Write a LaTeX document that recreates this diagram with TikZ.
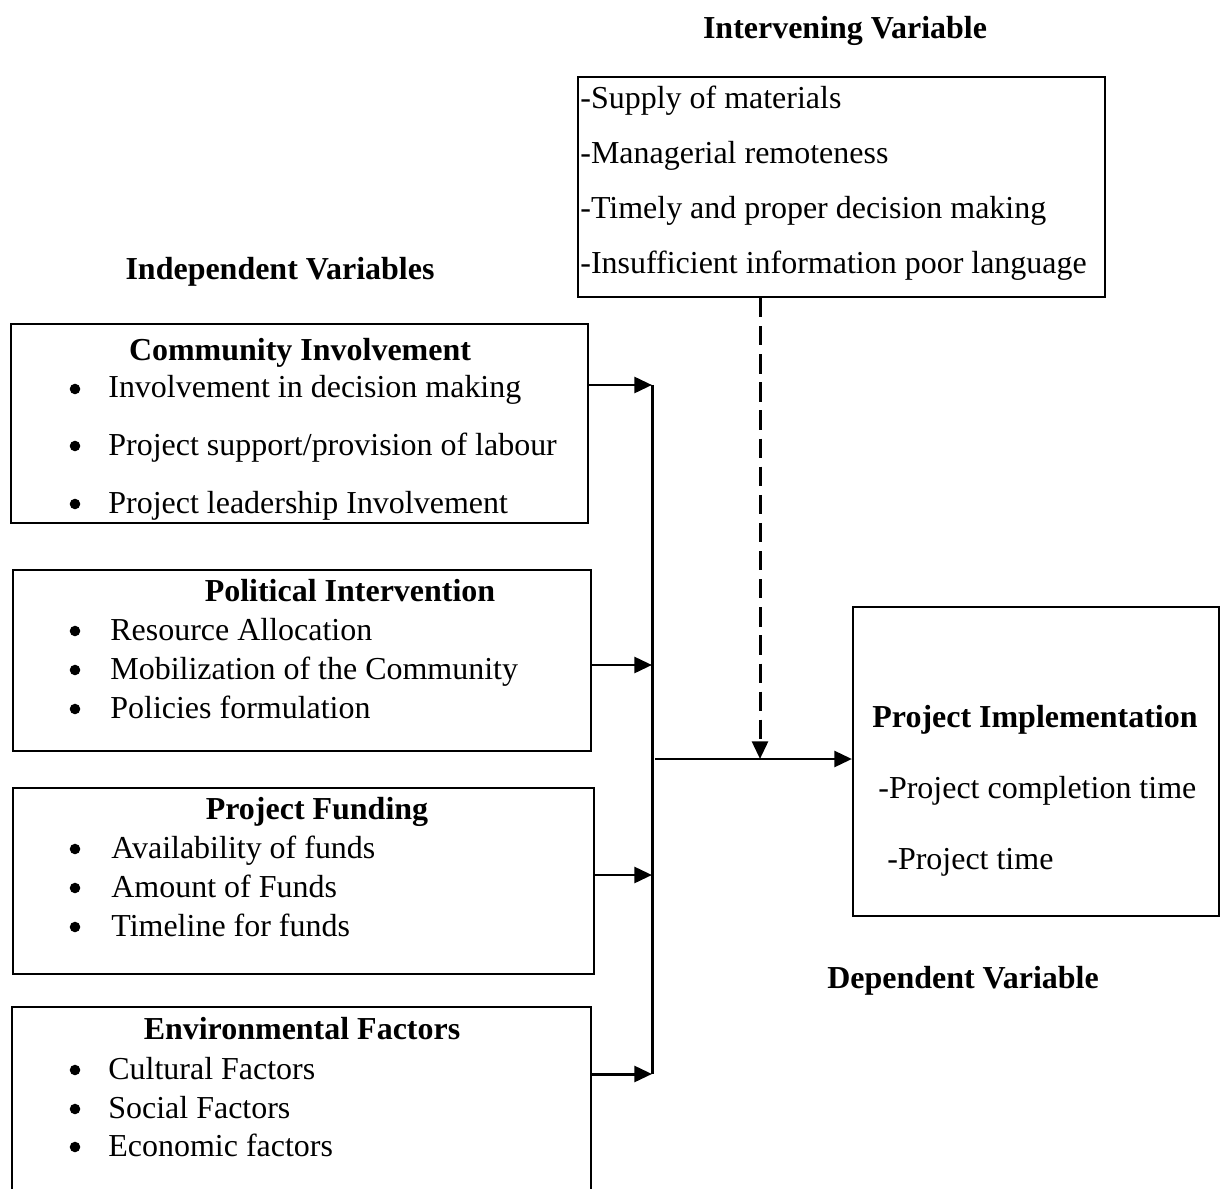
\documentclass[tikz,border=0pt]{standalone}
\usepackage{fontspec}
\setmainfont{Liberation Serif}
\usetikzlibrary{arrows.meta,fit}

\begin{document}
\begin{tikzpicture}[x=0.02cm, y=-0.02cm, font=\fontsize{18.2}{22}\selectfont,
		box/.style={draw, line width=1.2pt, inner sep=0pt},
		item/.style={anchor=base west, inner sep=0pt},
		head/.style={anchor=base, inner sep=0pt, font=\fontsize{18.2}{22}\selectfont\bfseries},
		link/.style={line width=1.7pt, -{Triangle[length=10pt,width=9pt]}}]
				\useasboundingbox (0,0) rectangle (1227,1189);
				% boxes
				\node[box, fit={(11,324) (588,523)}] (ci) {};
				\node[box, fit={(13,570) (591,751)}] (pi) {};
				\node[box, fit={(13,788) (594,974)}] (pf) {};
				\node[box, fit={(12,1007) (591,1200)}] (ef) {};
				\node[box, fit={(578,77) (1105,297)}] (iv) {};
				\node[box, fit={(853,607) (1219,916)}] (dv) {};
				
				% headings
				\node[head] (iv-h) at (845,39) {Intervening Variable};
				\node[head] (in-h) at (280,280) {Independent Variables};
				\node[head] (dv-h) at (963,988) {Dependent Variable};
				
				% intervening variable
				\foreach \y/\t [count=\i] in {109/-Supply of materials, 164/-Managerial remoteness,
					219/-Timely and proper decision making, 274/-Insufficient information poor language}
					\node[item] (iv-\i) at (580,\y) {\t};
				
				% community involvement
				\node[head] (ci-h) at (300,360) {Community Involvement};
				\foreach \y/\t [count=\i] in {398/{Involvement in decision making},
					455/{Project support/provision of labour}, 513/{Project leadership Involvement}}{
					\fill (75,\y-9) circle (3pt);
					\node[item] (ci-\i) at (108,\y) {\t};
				}
				
				% political intervention
				\node[head] (pi-h) at (350,601) {Political Intervention};
				\foreach \y/\t [count=\i] in {640/Resource Allocation,
					679/Mobilization of the Community, 718/Policies formulation}{
					\fill (75,\y-9) circle (3pt);
					\node[item] (pi-\i) at (110,\y) {\t};
				}
				
				% project funding
				\node[head] (pf-h) at (317,819) {Project Funding};
				\foreach \y/\t [count=\i] in {858/Availability of funds,
					897/Amount of Funds, 936/Timeline for funds}{
					\fill (75,\y-9) circle (3pt);
					\node[item] (pf-\i) at (111,\y) {\t};
				}
				
				% environmental factors
				\node[head] (ef-h) at (302,1039) {Environmental Factors};
				\foreach \y/\t [count=\i] in {1079/Cultural Factors,
					1118/Social Factors, 1156/Economic factors}{
					\fill (75,\y-9) circle (3pt);
					\node[item] (ef-\i) at (108,\y) {\t};
				}
				
				% project implementation
				\node[head] (dv-t) at (1035,727) {Project Implementation};
				\node[item] (dv-1) at (878,798) {-Project completion time};
				\node[item] (dv-2) at (887,869) {-Project time};
				
				% collector line
				\coordinate (c1) at (652,385);
				\coordinate (c2) at (652,665);
				\coordinate (c3) at (652,875);
				\coordinate (c4) at (652,1074);
				\draw[line width=1.7pt] (c1) -- (c4);
				\draw[link] (ci.east |- c1) -- (c1);
				\draw[link] (pi.east |- c2) -- (c2);
				\draw[link] (pf.east |- c3) -- (c3);
				\draw[link] (ef.east |- c4) -- (c4);
				
				% into dependent variable
				\coordinate (m) at (655,759);
				\coordinate (d) at (760,759);
				\draw[link] (m) -- (dv.west |- m);
				\draw[link, dash pattern=on 11pt off 5pt] (iv.south -| d) -- (d);
\end{tikzpicture}
\end{document}
